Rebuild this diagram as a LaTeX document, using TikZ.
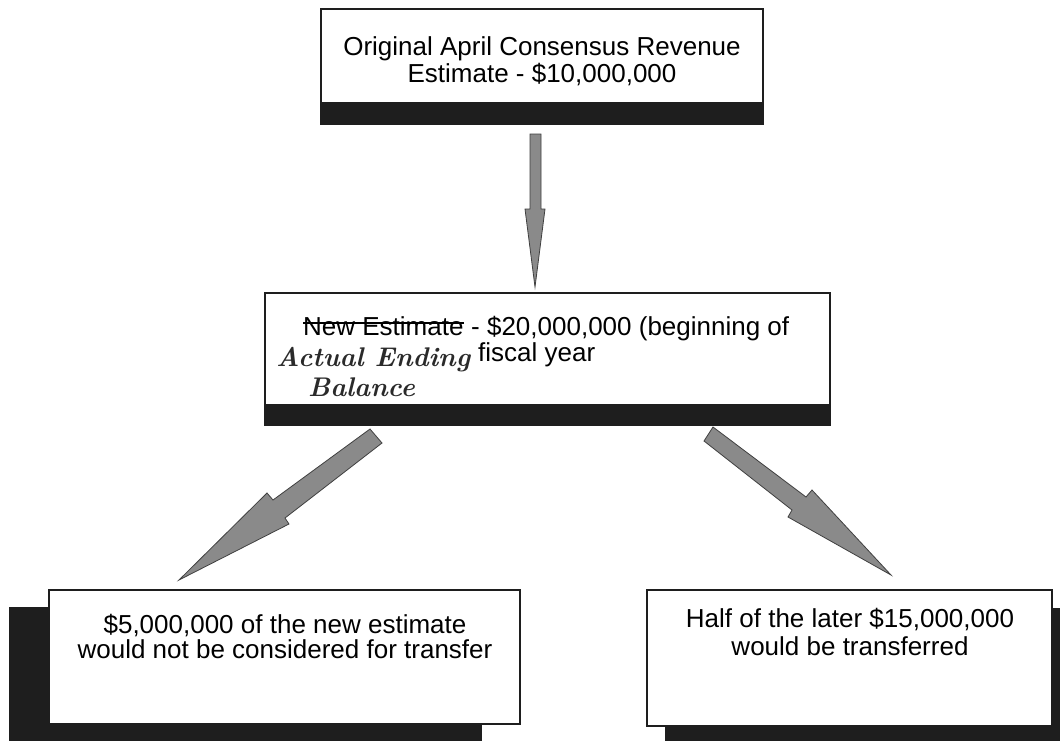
\documentclass[tikz,border=0pt]{standalone}
\usepackage{fontspec}
\newfontfamily\arial{Liberation Sans}
\usetikzlibrary{calc}
\definecolor{ink}{HTML}{1E1E1E}
\definecolor{arrowgray}{HTML}{8A8A8A}
\definecolor{pen}{HTML}{2A2A2A}
\tikzset{
  boxline/.style={draw=ink, line width=2pt},
  shadowbox/.style={fill=ink, draw=none},
  whitebox/.style={fill=white, draw=ink, line width=2pt},
  txt/.style={inner sep=0pt, anchor=base, font=\arial\fontsize{26}{29}\selectfont, text=black},
  txtw/.style={txt, anchor=base west},
  hand/.style={inner sep=0pt, anchor=base west, font=\rmfamily\itshape\bfseries\fontsize{27}{30}\selectfont, text=pen},
  blockarrow/.style={fill=arrowgray, draw=ink!85, line width=0.8pt, line join=miter}
}
\begin{document}
\begin{tikzpicture}[x=1pt,y=-1pt]
\useasboundingbox (0,0) rectangle (1060,740);
\fill[white] (0,0) rectangle (1060,740);

% top box
\fill[ink] (321,102) rectangle (763,124);
\draw[boxline] (321,9) rectangle (763,124);
\node[txt] (t1) at (542,55) {Original April Consensus Revenue};
\node[txt] (t2) at (542,82) {Estimate - \$10,000,000};

% middle box
\fill[ink] (265,404) rectangle (830,425);
\draw[boxline] (265,293) rectangle (830,425);
\node[txtw] (ne) at (303,335) {New Estimate};
\node[txtw] (m1) at (ne.base east) {\ - \$20,000,000 (beginning of};
\draw[black, line width=1.3pt] ($(ne.base west)+(0,-12)$) -- ($(ne.base east)+(0,-12)$);
\node[txtw] (m2) at (478,361) {fiscal year};
\node[hand] (h1) at (276,366) {Actual Ending};
\node[hand] (h2) at (308,396) {Balance};

% bottom-left box
\fill[shadowbox] (9,607) rectangle (482,745);
\draw[whitebox] (49,590) rectangle (520,724);
\node[txt] (l1) at (285,633) {\$5,000,000 of the new estimate};
\node[txt] (l2) at (285,658) {would not be considered for transfer};

% bottom-right box
\fill[shadowbox] (665,608) rectangle (1075,745);
\draw[whitebox] (647,590) rectangle (1052,726);
\node[txt] (r1) at (850,627) {Half of the later \$15,000,000};
\node[txt] (r2) at (850,655) {would be transferred};

% arrows
\coordinate (tipdown) at (535,287);
\coordinate (tipleft) at (179,580);
\coordinate (tipright) at (891,575);
\draw[blockarrow] (530,134) -- (541,134) -- (541,209) -- (545,209) -- (tipdown) -- (525,209) -- (530,209) -- cycle;
\draw[blockarrow] (370,429) -- (382,443) -- (285,518) -- (289,524) -- (tipleft) -- (267,493) -- (273,500) -- cycle;
\draw[blockarrow] (713,427) -- (806,497) -- (812,490) -- (tipright) -- (788,517) -- (792,510) -- (704,441) -- cycle;
\end{tikzpicture}
\end{document}
